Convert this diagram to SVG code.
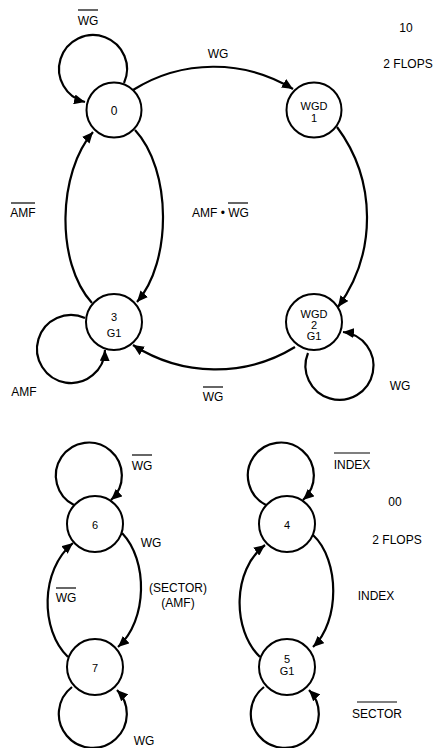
<svg xmlns="http://www.w3.org/2000/svg" width="435" height="748" viewBox="0 0 435 748">
<style>
text{font-family:"Liberation Sans",Arial,sans-serif;font-size:12px;fill:#000;text-anchor:middle}
.n{font-size:11px}
.st{fill:#fff;stroke:#000;stroke-width:2}
.e{fill:none;stroke:#000;stroke-width:2.2}
.ov{stroke:#000;stroke-width:1.2}
</style>
<defs>
<marker id="ah" markerUnits="userSpaceOnUse" markerWidth="12" markerHeight="10" refX="11" refY="5" orient="auto">
<path d="M0,0 L11,5 L0,10 z" fill="#000"/>
</marker>
</defs>
<g id="connectors">
<path class="e" marker-end="url(#ah)" d="M133,90 A152,152 0 0 1 293,89"/>
<path class="e" marker-end="url(#ah)" d="M337,127 A152,152 0 0 1 338,307"/>
<path class="e" marker-end="url(#ah)" d="M295,347 A152,152 0 0 1 133,345"/>
<path class="e" marker-end="url(#ah)" d="M92,303 C55,262 58,172 93,132"/>
<path class="e" marker-end="url(#ah)" d="M135,130 C172,170 172,262 137,302"/>
<path class="e" marker-end="url(#ah)" d="M124,83 A34,34 0 1 0 85,102"/>
<path class="e" marker-end="url(#ah)" d="M85,318 A34,34 0 1 0 105,350"/>
<path class="e" marker-end="url(#ah)" d="M308,353 A34,34 0 1 0 343,332"/>
<path class="e" marker-end="url(#ah)" d="M74,505 A33,33 0 1 1 111,500"/>
<path class="e" marker-end="url(#ah)" d="M72,687 A34,34 0 1 0 117,690"/>
<path class="e" marker-end="url(#ah)" d="M122,533 C148,560 148,620 118,647"/>
<path class="e" marker-end="url(#ah)" d="M68,657 C40,630 40,570 73,543"/>
<path class="e" marker-end="url(#ah)" d="M266,505 A33,33 0 1 1 303,500"/>
<path class="e" marker-end="url(#ah)" d="M264,687 A34,34 0 1 0 309,690"/>
<path class="e" marker-end="url(#ah)" d="M313,535 C340,560 340,622 313,647"/>
<path class="e" marker-end="url(#ah)" d="M260,657 C232,630 232,570 265,545"/>
</g>
<g id="s0"><circle class="st" cx="114" cy="110" r="27.5"/><text x="114" y="115" style="font-size:12px">0</text></g>
<g id="s1"><circle class="st" cx="314" cy="110" r="27.5"/><text class="n" x="314" y="110">WGD</text><text class="n" x="314" y="122">1</text></g>
<g id="s2"><circle class="st" cx="314" cy="322" r="28"/><text class="n" x="314" y="318">WGD</text><text class="n" x="314" y="329">2</text><text class="n" x="314" y="340">G1</text></g>
<g id="s3"><circle class="st" cx="114" cy="322" r="28"/><text class="n" x="114" y="321">3</text><text class="n" x="114" y="337">G1</text></g>
<g id="s6"><circle class="st" cx="95" cy="524" r="28"/><text class="n" x="95" y="529">6</text></g>
<g id="s7"><circle class="st" cx="95" cy="667" r="28"/><text class="n" x="95" y="672">7</text></g>
<g id="s4"><circle class="st" cx="287" cy="524" r="28"/><text class="n" x="287" y="529">4</text></g>
<g id="s5"><circle class="st" cx="287" cy="667" r="28"/><text class="n" x="287" y="663">5</text><text class="n" x="287" y="675">G1</text></g>
<g id="labels">
<text x="88" y="25">WG</text><line class="ov" x1="78" y1="10" x2="98" y2="10"/>
<text x="218" y="58">WG</text>
<text x="406" y="32">10</text>
<text x="408" y="68">2 FLOPS</text>
<text x="23" y="217">AMF</text><line class="ov" x1="11" y1="203" x2="35" y2="203"/>
<text x="192" y="217" style="text-anchor:start">AMF • WG</text><line class="ov" x1="228" y1="203" x2="248" y2="203"/>
<text x="24" y="396">AMF</text>
<text x="213" y="401">WG</text><line class="ov" x1="203" y1="387" x2="223" y2="387"/>
<text x="400" y="390">WG</text>
<text x="142" y="470">WG</text><line class="ov" x1="132" y1="455" x2="152" y2="455"/>
<text x="151" y="547">WG</text>
<text x="178" y="592">(SECTOR)</text>
<text x="178" y="607">(AMF)</text>
<text x="66" y="602">WG</text><line class="ov" x1="56" y1="588" x2="76" y2="588"/>
<text x="144" y="745">WG</text>
<text x="352" y="469">INDEX</text><line class="ov" x1="334" y1="453" x2="370" y2="453"/>
<text x="395" y="506">00</text>
<text x="397" y="544">2 FLOPS</text>
<text x="376" y="600">INDEX</text>
<text x="377" y="718">SECTOR</text><line class="ov" x1="357" y1="702" x2="397" y2="702"/>
</g>
</svg>
